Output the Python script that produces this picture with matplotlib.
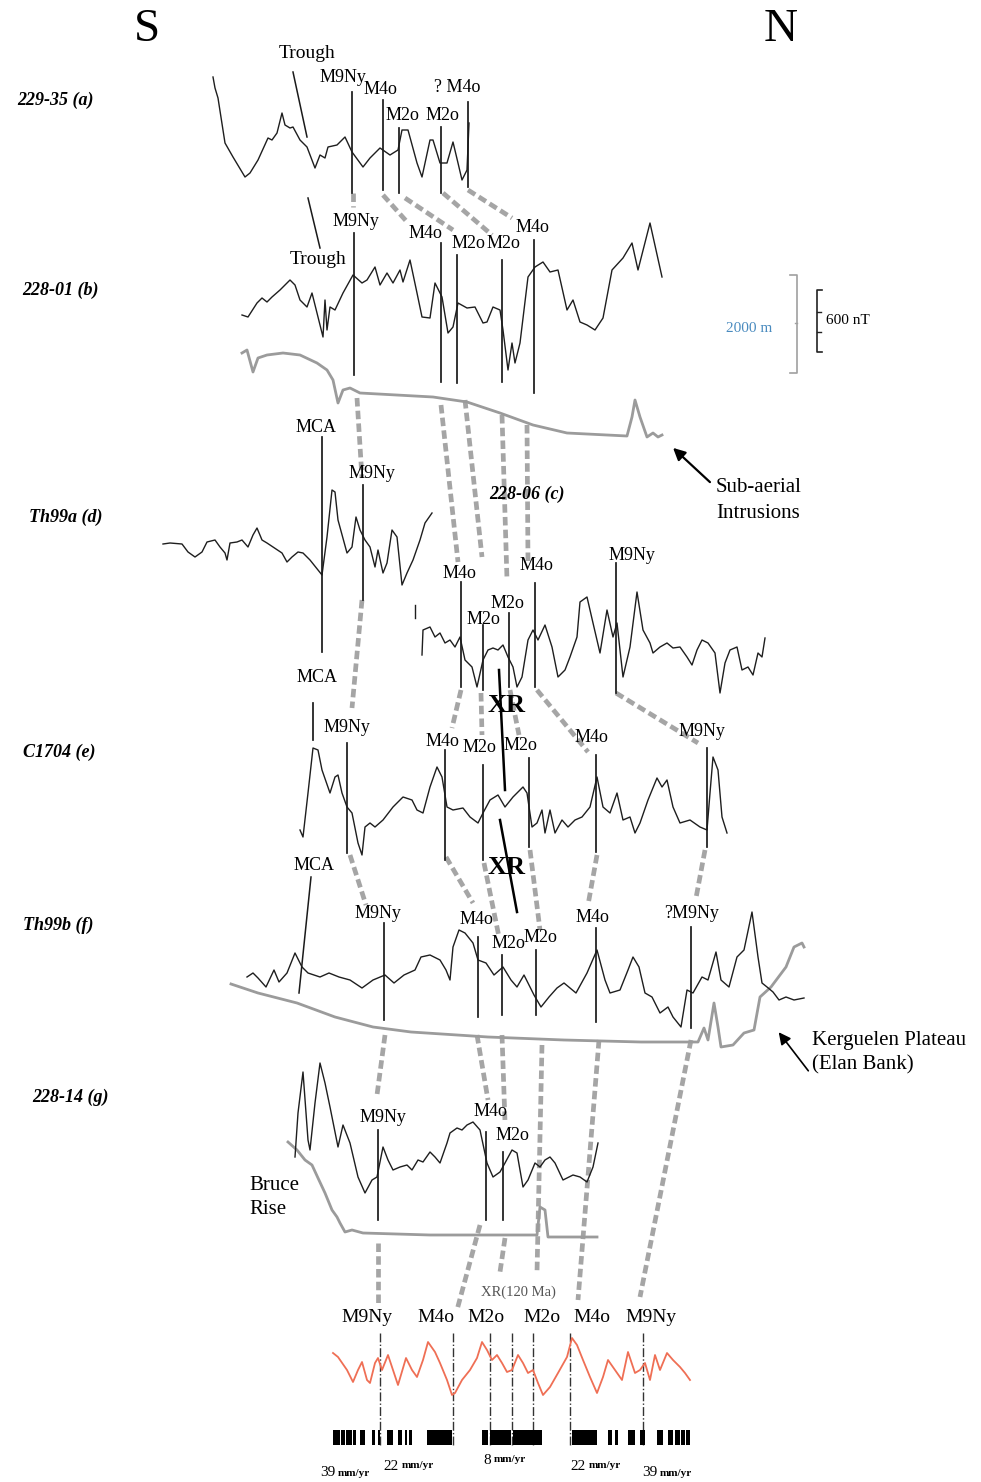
import numpy as np
import matplotlib.pyplot as plt

plt.rcParams['font.family'] = ['Liberation Serif', 'DejaVu Serif']

# Magnetic anomaly profiles, S (left) to N (right), traced in page pixels (x, y)
prof_a = [(213, 77), (215, 88), (218, 98), (225, 143), (233, 157), (245, 177), (250, 173), (258, 160),
          (268, 138), (272, 140), (277, 133), (282, 113), (285, 125), (290, 128), (293, 127), (300, 140),
          (307, 147), (315, 168), (320, 155), (325, 158), (328, 147), (337, 145), (345, 137), (352, 152),
          (363, 167), (370, 158), (380, 148), (390, 155), (398, 150), (402, 130), (408, 130), (417, 163),
          (422, 177), (430, 140), (433, 140), (440, 163), (447, 163), (453, 142), (458, 163), (462, 180),
          (467, 170), (469, 123)]
prof_b = [(242, 315), (248, 317), (257, 303), (262, 298), (267, 302), (272, 297), (280, 290), (290, 280),
          (295, 285), (300, 300), (307, 307), (312, 293), (318, 317), (323, 337), (325, 300), (327, 330),
          (330, 307), (335, 310), (343, 293), (353, 275), (362, 283), (367, 280), (375, 267), (380, 285),
          (387, 273), (393, 283), (400, 270), (403, 282), (410, 260), (417, 293), (422, 317), (430, 318),
          (435, 283), (442, 297), (448, 333), (453, 327), (458, 303), (467, 308), (475, 307), (483, 323),
          (487, 322), (493, 307), (500, 310), (503, 330), (508, 370), (512, 343), (515, 363), (520, 343),
          (528, 277), (535, 267), (543, 262), (550, 272), (558, 270), (567, 310), (573, 300), (580, 322),
          (587, 325), (595, 330), (603, 318), (612, 270), (623, 258), (632, 243), (638, 270), (650, 223),
          (662, 277)]
prof_d = [(163, 544), (170, 543), (182, 544), (188, 552), (195, 557), (202, 552), (207, 542), (215, 540),
          (220, 547), (225, 553), (227, 560), (230, 543), (237, 542), (242, 540), (248, 547), (253, 535),
          (257, 528), (262, 540), (267, 543), (273, 547), (282, 553), (287, 562), (292, 557), (298, 552),
          (303, 553), (310, 560), (318, 570), (322, 575), (327, 537), (332, 490), (335, 492), (338, 520),
          (347, 553), (352, 547), (356, 517), (360, 530), (365, 540), (370, 547), (375, 567), (378, 550),
          (383, 573), (387, 563), (392, 530), (397, 537), (402, 585), (407, 573), (413, 560), (420, 540),
          (425, 523), (432, 513)]
prof_c = [(422, 655), (423, 630), (430, 627), (435, 637), (440, 633), (445, 643), (450, 640), (455, 647),
          (460, 637), (465, 660), (472, 667), (477, 687), (483, 660), (488, 650), (493, 648), (498, 650),
          (503, 645), (508, 657), (513, 667), (517, 687), (522, 677), (528, 640), (533, 630), (538, 640),
          (545, 625), (552, 647), (558, 677), (565, 670), (570, 657), (577, 637), (580, 602), (587, 597),
          (593, 623), (600, 653), (607, 610), (613, 637), (617, 623), (623, 677), (630, 647), (637, 592),
          (643, 630), (650, 643), (653, 653), (660, 647), (667, 643), (673, 648), (680, 647), (687, 657),
          (692, 665), (697, 650), (702, 640), (708, 643), (715, 653), (720, 693), (725, 663), (730, 650),
          (737, 647), (742, 670), (748, 667), (753, 675), (758, 653), (762, 657), (765, 638)]
prof_c_stub = [(415, 605), (415, 618)]
prof_e = [(300, 830), (303, 837), (308, 793), (313, 748), (318, 750), (322, 770), (330, 793), (335, 777),
          (338, 775), (342, 793), (347, 807), (352, 813), (358, 843), (362, 855), (365, 827), (370, 823),
          (375, 827), (383, 820), (393, 807), (403, 797), (412, 800), (417, 810), (423, 813), (430, 787),
          (437, 767), (442, 777), (447, 807), (453, 810), (463, 808), (470, 817), (478, 823), (483, 813),
          (490, 800), (498, 795), (505, 807), (513, 797), (523, 787), (527, 793), (532, 827), (537, 823),
          (542, 810), (545, 833), (550, 810), (555, 833), (562, 820), (568, 827), (575, 820), (582, 817),
          (590, 807), (597, 777), (603, 807), (610, 813), (617, 793), (623, 820), (630, 817), (635, 833),
          (640, 823), (648, 800), (657, 778), (662, 787), (667, 780), (673, 807), (680, 823), (690, 820),
          (700, 827), (707, 830), (710, 793), (713, 757), (718, 770), (722, 817), (727, 833)]
prof_f = [(247, 977), (253, 973), (258, 978), (266, 987), (274, 970), (279, 982), (287, 973), (295, 953),
          (302, 967), (308, 973), (320, 977), (329, 973), (339, 977), (350, 980), (362, 988), (373, 980),
          (385, 975), (394, 983), (404, 975), (415, 970), (421, 957), (430, 955), (440, 960), (446, 970),
          (450, 980), (453, 947), (459, 930), (465, 933), (473, 943), (478, 960), (486, 963), (494, 975),
          (503, 967), (511, 980), (517, 987), (524, 975), (528, 983), (534, 995), (541, 1007), (549, 997),
          (557, 988), (564, 983), (576, 993), (587, 973), (597, 950), (605, 980), (610, 993), (620, 990),
          (628, 970), (633, 957), (639, 967), (645, 993), (652, 997), (660, 1013), (668, 1007), (673, 1017),
          (681, 1027), (687, 990), (693, 993), (702, 977), (708, 980), (716, 952), (721, 980), (729, 987),
          (737, 957), (744, 950), (752, 912), (758, 957), (762, 983), (767, 987), (773, 992), (779, 1000),
          (786, 997), (794, 1000), (804, 998)]
prof_g = [(295, 1157), (298, 1113), (303, 1072), (308, 1140), (310, 1150), (315, 1103), (320, 1063),
          (325, 1083), (330, 1107), (338, 1147), (343, 1125), (350, 1143), (358, 1177), (365, 1193),
          (372, 1180), (377, 1177), (383, 1147), (388, 1160), (393, 1170), (400, 1167), (407, 1165),
          (412, 1170), (418, 1160), (423, 1162), (430, 1152), (435, 1157), (440, 1163), (447, 1143),
          (450, 1133), (457, 1128), (462, 1130), (467, 1125), (473, 1122), (480, 1130), (487, 1163),
          (493, 1177), (500, 1172), (505, 1163), (512, 1150), (517, 1153), (523, 1187), (528, 1180),
          (535, 1163), (540, 1167), (545, 1160), (550, 1157), (555, 1163), (563, 1180), (573, 1175),
          (580, 1177), (587, 1182), (593, 1167), (598, 1143)]

# Bathymetry under profiles b, f and g
bath_b = [(242, 353), (247, 350), (253, 372), (258, 358), (267, 355), (283, 353), (300, 355), (317, 363),
          (327, 370), (333, 380), (338, 403), (343, 390), (350, 388), (360, 393), (433, 397), (467, 402),
          (500, 413), (533, 425), (567, 433), (627, 436), (632, 417), (635, 400), (640, 417), (647, 437),
          (653, 433), (658, 437), (662, 435)]
bath_f = [(231, 984), (258, 993), (297, 1003), (335, 1017), (373, 1027), (411, 1032), (488, 1037),
          (564, 1040), (641, 1042), (698, 1042), (704, 1028), (708, 1040), (714, 1003), (718, 1027),
          (721, 1047), (733, 1045), (744, 1033), (754, 1030), (760, 997), (771, 987), (786, 967),
          (794, 947), (802, 943), (804, 947)]
bath_g = [(288, 1142), (297, 1150), (305, 1160), (312, 1165), (318, 1178), (325, 1193), (332, 1210),
          (337, 1217), (340, 1223), (345, 1232), (352, 1230), (363, 1233), (430, 1235), (537, 1235),
          (540, 1207), (545, 1210), (548, 1237), (597, 1237)]

# Synthetic model anomaly (red) and block model
model = [(333, 1353), (338, 1357), (347, 1370), (353, 1382), (358, 1370), (362, 1362), (367, 1380),
         (370, 1383), (375, 1363), (378, 1358), (382, 1370), (388, 1355), (393, 1370), (398, 1385),
         (406, 1358), (412, 1370), (417, 1377), (423, 1360), (428, 1342), (435, 1352), (440, 1363),
         (447, 1380), (452, 1395), (455, 1393), (462, 1380), (470, 1370), (477, 1358), (482, 1342),
         (487, 1350), (492, 1360), (497, 1355), (502, 1363), (507, 1372), (512, 1370), (518, 1355),
         (523, 1363), (528, 1373), (533, 1370), (538, 1383), (543, 1395), (550, 1387), (558, 1373),
         (567, 1357), (572, 1338), (577, 1345), (583, 1360), (590, 1377), (597, 1393), (603, 1377),
         (608, 1360), (615, 1370), (622, 1380), (628, 1352), (635, 1373), (640, 1370), (645, 1363),
         (650, 1380), (655, 1355), (660, 1370), (667, 1353), (673, 1360), (680, 1367), (685, 1373),
         (690, 1380)]
normal_blocks = [(333, 340), (341, 345), (346, 352), (353, 356), (360, 365), (372, 375), (378, 380),
                 (387, 393), (398, 402), (405, 407), (409, 412), (427, 452), (482, 488), (490, 511),
                 (513, 520), (520, 542), (572, 597), (608, 612), (615, 618), (628, 635), (640, 645),
                 (657, 663), (668, 673), (675, 680), (681, 685), (686, 690)]
model_picks = [380, 453, 490, 512, 533, 570, 643]
model_names = ['M9Ny', 'M4o', 'M2o', 'M2o', 'M4o', 'M9Ny']
rates = [('39', 335, 1473), ('22', 399, 1466), ('8', 491, 1460), ('22', 586, 1466), ('39', 657, 1473)]

# Picked isochrons: (x, top, bottom)
picks = [(352, 92, 193), (383, 100, 190), (399, 128, 193), (441, 127, 193), (468, 102, 187),
         (354, 233, 375), (441, 243, 382), (457, 255, 383), (502, 260, 382), (534, 240, 393),
         (322, 437, 652), (363, 485, 600),
         (461, 582, 687), (483, 625, 690), (509, 613, 687), (535, 583, 687), (616, 563, 693),
         (313, 703, 740), (347, 743, 853), (445, 750, 860), (483, 765, 860), (529, 758, 847),
         (596, 755, 852), (707, 748, 847),
         (384, 923, 1020), (478, 937, 1017), (502, 955, 1015), (536, 950, 1015), (596, 928, 1022),
         (691, 927, 1028),
         (378, 1130, 1220), (486, 1132, 1220), (503, 1152, 1220)]
pick_labels = [('M9Ny', 343, 78), ('M4o', 380, 89), ('M2o', 402, 116), ('M2o', 442, 116), ('? M4o', 457, 88),
               ('M9Ny', 356, 222), ('M4o', 425, 234), ('M2o', 468, 243), ('M2o', 503, 243), ('M4o', 532, 228),
               ('MCA', 316, 427), ('M9Ny', 372, 474),
               ('M4o', 459, 573), ('M2o', 483, 620), ('M2o', 507, 603), ('M4o', 536, 566), ('M9Ny', 632, 555),
               ('MCA', 317, 678), ('M9Ny', 347, 728), ('M4o', 442, 741), ('M2o', 479, 748), ('M2o', 520, 746),
               ('M4o', 591, 737), ('M9Ny', 702, 732),
               ('MCA', 314, 865), ('M9Ny', 378, 913), ('M4o', 476, 920), ('M2o', 508, 943), ('M2o', 540, 938),
               ('M4o', 592, 917), ('?M9Ny', 692, 914),
               ('M9Ny', 383, 1118), ('M4o', 490, 1112), ('M2o', 512, 1135)]

# Correlations between profiles (grey dashed)
links = [((353, 193), (353, 207)), ((383, 195), (408, 223)), ((405, 198), (453, 230)),
         ((443, 193), (492, 235)), ((468, 190), (512, 218)),
         ((357, 398), (362, 478)), ((441, 405), (458, 562)), ((465, 400), (482, 557)),
         ((502, 415), (507, 580)), ((527, 425), (528, 563)),
         ((362, 600), (352, 708)), ((461, 690), (452, 728)), ((481, 693), (482, 735)),
         ((510, 690), (519, 735)), ((537, 690), (588, 752)), ((616, 693), (698, 743)),
         ((350, 855), (366, 905)), ((446, 857), (473, 903)), ((484, 863), (499, 937)),
         ((530, 850), (540, 930)), ((597, 855), (588, 905)), ((705, 850), (696, 898)),
         ((385, 1035), (377, 1095)), ((477, 1035), (488, 1100)), ((502, 1035), (505, 1122)),
         ((542, 1045), (537, 1272)), ((599, 1040), (578, 1300)), ((691, 1040), (640, 1297)),
         ((378, 1243), (378, 1303)), ((480, 1225), (457, 1310)), ((505, 1238), (500, 1272))]

# Slanted guide lines: troughs, MCA on f, extinct ridge (XR)
troughs = [((293, 72), (307, 137)), ((308, 198), (320, 248))]
mca_f = ((311, 877), (299, 993))
xr_lines = [((499, 670), (505, 790)), ((500, 820), (517, 912))]

profile_names = [('229-35 (a)', 55, 100), ('228-01 (b)', 60, 290), ('Th99a (d)', 66, 517),
                 ('C1704 (e)', 59, 752), ('Th99b (f)', 58, 925), ('228-14 (g)', 70, 1097),
                 ('228-06 (c)', 527, 494)]

fig = plt.figure(figsize=(9.81, 14.82), dpi=100)
ax = fig.add_axes([0, 0, 1, 1])
ax.set_xlim(0, 981)
ax.set_ylim(1482, 0)
ax.axis('off')

grey = '#9b9b9b'
for (x0, y0), (x1, y1) in links:
    ax.plot([x0, x1], [y0, y1], color='#a5a5a5', lw=3.4, ls=(0, (1.8, 0.9)),
            solid_capstyle='butt', zorder=1)

for bath in (bath_b, bath_f, bath_g):
    b = np.array(bath)
    ax.plot(b[:, 0], b[:, 1], color=grey, lw=2.0, zorder=2)

for prof in (prof_a, prof_b, prof_d, prof_c, prof_c_stub, prof_e, prof_f, prof_g):
    p = np.array(prof)
    ax.plot(p[:, 0], p[:, 1], color='#1e1e1e', lw=1.0, zorder=3)

for x, top, bot in picks:
    ax.plot([x, x], [top, bot], color='#1a1a1a', lw=1.25, zorder=4)
for (x0, y0), (x1, y1) in troughs + [mca_f]:
    ax.plot([x0, x1], [y0, y1], color='#1a1a1a', lw=1.1, zorder=4)
for (x0, y0), (x1, y1) in xr_lines:
    ax.plot([x0, x1], [y0, y1], color='black', lw=1.8, zorder=4)

for txt, x, y in pick_labels:
    ax.text(x, y, txt, fontsize=13, ha='center', va='center', zorder=5)

ax.text(307, 53, 'Trough', fontsize=14, ha='center', va='center')
ax.text(318, 260, 'Trough', fontsize=14, ha='center', va='center')
for y in (706, 868):
    ax.text(507, y, 'XR', fontsize=19, fontweight='bold', ha='center', va='center', zorder=6)

for txt, x, y in profile_names:
    ax.text(x, y, txt, fontsize=13, fontweight='bold', style='italic', ha='center', va='center')

ax.text(147, 30, 'S', fontsize=34, ha='center', va='center')
ax.text(781, 30, 'N', fontsize=34, ha='center', va='center')

# Scale bars
ax.plot([790, 797, 797, 790], [275, 275, 373, 373], color='#a0a0a0', lw=1.2)
ax.plot([795, 797], [323, 323], color='#a0a0a0', lw=1.0)
ax.text(749, 329, '2000 m', fontsize=11, color='#4a8bbf', ha='center', va='center')
ax.plot([822, 817, 817, 822], [290, 290, 352, 352], color='#222222', lw=1.2)
for y in (312, 332):
    ax.plot([817, 821], [y, y], color='#222222', lw=1.0)
ax.text(848, 321, '600 nT', fontsize=11, ha='center', va='center')

# Annotations
ax.annotate('', xy=(671, 446), xytext=(712, 484),
            arrowprops=dict(arrowstyle='-|>', color='black', lw=1.6, mutation_scale=18))
ax.text(716, 488, 'Sub-aerial', fontsize=15, ha='left', va='center')
ax.text(716, 513, 'Intrusions', fontsize=15, ha='left', va='center')
ax.annotate('', xy=(777, 1030), xytext=(810, 1073),
            arrowprops=dict(arrowstyle='-|>', color='black', lw=1.2, mutation_scale=18))
ax.text(812, 1041, 'Kerguelen Plateau', fontsize=15, ha='left', va='center')
ax.text(812, 1065, '(Elan Bank)', fontsize=15, ha='left', va='center')
ax.text(249, 1185, 'Bruce', fontsize=15, ha='left', va='center')
ax.text(249, 1210, 'Rise', fontsize=15, ha='left', va='center')

# Model anomaly, picks and reversal blocks
m = np.array(model)
ax.plot(m[:, 0], m[:, 1], color='#ef6f55', lw=1.3, zorder=3)
for x in model_picks:
    ax.plot([x, x], [1333, 1447], color='#333333', lw=1.0, ls='-.', zorder=2)
for x0, x1 in normal_blocks:
    ax.add_patch(plt.Rectangle((x0, 1430), x1 - x0, 15, color='black', lw=0, zorder=4))
label_x = [367, 436, 486, 542, 592, 651]
for txt, x in zip(model_names, label_x):
    ax.text(x, 1318, txt, fontsize=14, ha='center', va='center')
ax.text(518, 1292, 'XR(120 Ma)', fontsize=10.5, color='#555555', ha='center', va='center')
for num, x, y in rates:
    ax.text(x, y, num, fontsize=11, ha='right', va='center')
    ax.text(x + 3, y, 'mm/yr', fontsize=8, fontweight='bold', ha='left', va='center')

fig.savefig('out.png', dpi=100)
